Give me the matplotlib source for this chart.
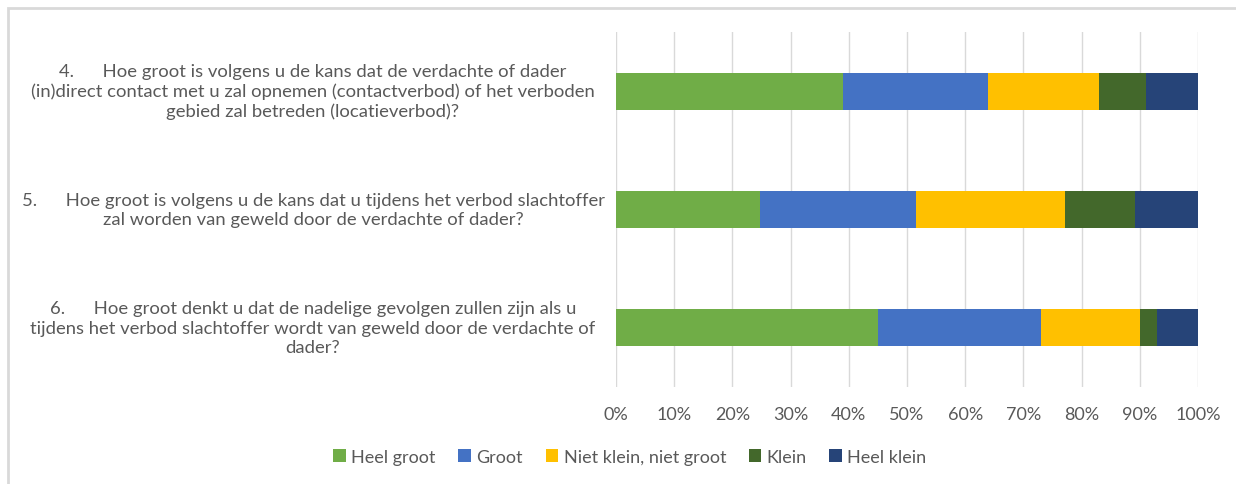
import numpy as np
import matplotlib.pyplot as plt
from matplotlib.patches import Rectangle

# Vragen (van boven naar onder)
vragen = [
    "4.      Hoe groot is volgens u de kans dat de verdachte of dader\n"
    "(in)direct contact met u zal opnemen (contactverbod) of het verboden\n"
    "gebied zal betreden (locatieverbod)?",
    "5.      Hoe groot is volgens u de kans dat u tijdens het verbod slachtoffer\n"
    "zal worden van geweld door de verdachte of dader?",
    "6.      Hoe groot denkt u dat de nadelige gevolgen zullen zijn als u\n"
    "tijdens het verbod slachtoffer wordt van geweld door de verdachte of\n"
    "dader?",
]

categorieen = ["Heel groot", "Groot", "Niet klein, niet groot", "Klein", "Heel klein"]

heel_groot = [39.0, 24.7, 45.0]
groot = [25.0, 26.8, 28.0]
neutraal = [19.0, 25.7, 17.0]
klein = [8.0, 12.0, 3.0]
heel_klein = [9.0, 10.8, 7.0]

kleuren = ["#70AD47", "#4472C4", "#FFC000", "#43682B", "#264478"]
tekstkleur = "#595959"

plt.rcParams['font.family'] = ['Lato', 'DejaVu Sans']

fig = plt.figure(figsize=(12.36, 4.85), dpi=100)
ax = fig.add_axes([616 / 1236, 1 - 388 / 485, 582 / 1236, 355 / 485])

reeksen = [heel_groot, groot, neutraal, klein, heel_klein]
y = np.arange(len(vragen))[::-1]
links = np.zeros(len(vragen))
for waarden, kleur, naam in zip(reeksen, kleuren, categorieen):
    waarden = np.array(waarden)
    ax.barh(y, waarden, left=links, height=0.314, color=kleur, label=naam, zorder=3)
    links += waarden

ax.set_xlim(0, 100)
ax.set_ylim(-0.5, 2.5)
ax.set_xticks(np.arange(0, 101, 10))
ax.set_xticklabels([f"{t}%" for t in range(0, 101, 10)], color=tekstkleur, fontsize=13)
ax.tick_params(axis='x', length=0, pad=14)
ax.set_yticks([])
ax.grid(axis='x', color="#D9D9D9", linewidth=1, zorder=0)
for s in ax.spines.values():
    s.set_visible(False)

# vraagteksten links, gecentreerd
for yi, tekst in zip(y, vragen):
    ypos = ax.transData.transform((0, yi))[1] / fig.bbox.height
    fig.text(313 / 1236, ypos, tekst, ha='center', va='center', multialignment='center',
             fontsize=13.3, color=tekstkleur, linespacing=1.27)

fig.legend(loc='center', bbox_to_anchor=(630 / 1236, 1 - 458 / 485), ncol=5, frameon=False,
           fontsize=13, labelcolor=tekstkleur, handlelength=0.7, handleheight=0.7,
           handletextpad=0.3, columnspacing=1.25)

# lichtgrijze rand rond de grafiek
fig.patches.append(Rectangle((8 / 1236, -0.1), 1.2, 1 - 9 / 485 + 0.1, transform=fig.transFigure,
                             fill=False, edgecolor="#D9D9D9", linewidth=2))

fig.savefig("out.png", dpi=100)
